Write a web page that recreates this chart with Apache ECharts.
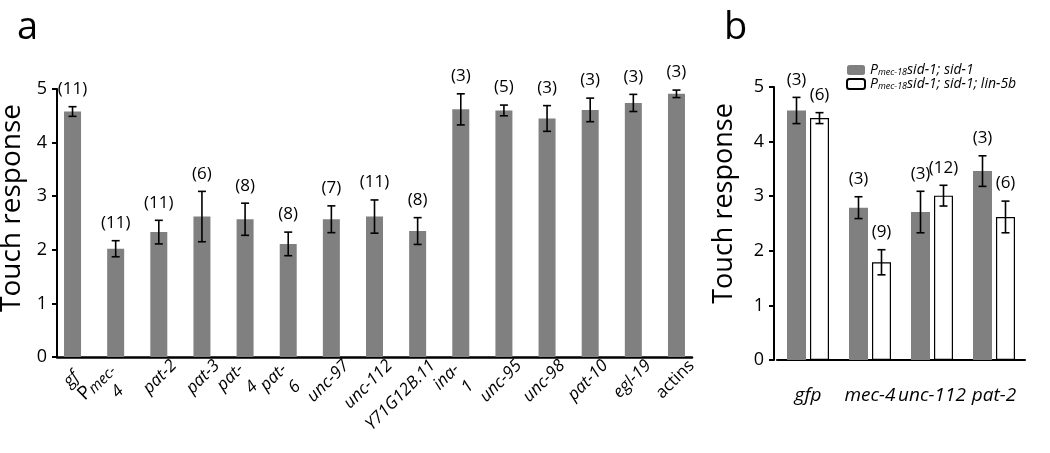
<!DOCTYPE html>
<html>
<head>
<meta charset="utf-8">
<script src="https://cdn.jsdelivr.net/npm/echarts@6/dist/echarts.min.js"></script>
<style>
  html, body { margin: 0; padding: 0; background: #fff; }
  #main { width: 1050px; height: 453px; }
</style>
</head>
<body>
<div id="main"></div>
<script>
// panel a
const catsA = ['gf', 'Pmec-\n4', 'pat-2', 'pat-3', 'pat-\n4', 'pat-\n6', 'unc-97', 'unc-112', 'Y71G12B.11', 'ina-\n1', 'unc-95', 'unc-98', 'pat-10', 'egl-19', 'actins'];
const meanA = [4.58, 2.02, 2.33, 2.62, 2.57, 2.11, 2.57, 2.62, 2.35, 4.62, 4.60, 4.45, 4.61, 4.74, 4.91];
const errA = [0.09, 0.15, 0.22, 0.47, 0.30, 0.22, 0.25, 0.31, 0.25, 0.29, 0.10, 0.24, 0.22, 0.16, 0.07];
const countA = [11, 11, 11, 6, 8, 8, 7, 11, 8, 3, 5, 3, 3, 3, 3];

// panel b
const catsB = ['gfp', 'mec-4', 'unc-112', 'pat-2'];
const meanB1 = [4.57, 2.79, 2.71, 3.46];
const errB1 = [0.24, 0.20, 0.38, 0.28];
const countB1 = [3, 3, 3, 3];
const meanB2 = [4.43, 1.79, 3.01, 2.62];
const errB2 = [0.10, 0.23, 0.19, 0.29];
const countB2 = [6, 9, 12, 6];

const FONT = '"Open Sans", "Noto Sans", sans-serif';
const GRAY = '#808080';
const LABEL_SHIFT = 0.35; // rotated labels sit a bit right of the bars

function errItem(offset) {
  return function (params, api) {
    const x = api.value(0), m = api.value(1), e = api.value(2), n = api.value(3);
    const top = api.coord([x, m + e]);
    const bot = api.coord([x, m - e]);
    const cx = top[0] + offset;
    const st = { stroke: '#000', lineWidth: 1.6 };
    return {
      type: 'group',
      children: [
        { type: 'line', shape: { x1: cx, y1: top[1], x2: cx, y2: bot[1] }, style: st },
        { type: 'line', shape: { x1: cx - 4, y1: top[1], x2: cx + 4, y2: top[1] }, style: st },
        { type: 'line', shape: { x1: cx - 4, y1: bot[1], x2: cx + 4, y2: bot[1] }, style: st },
        {
          type: 'text',
          style: {
            text: '(' + n + ')', x: cx, y: top[1] - 9,
            textAlign: 'center', textVerticalAlign: 'bottom',
            fontSize: 17, fontFamily: FONT, fill: '#000'
          }
        }
      ]
    };
  };
}

function labelA(v) {
  const name = catsA[Math.round(v - LABEL_SHIFT)];
  if (name === 'actins') return '{n|actins}';
  if (name.startsWith('P')) return '{np|P}{s|mec-}\n{c|4}';
  const parts = name.split('\n');
  if (parts.length > 1) return '{ip|' + parts[0] + '}\n{c|' + parts[1] + '}';
  if (name.length < 3) return '{ip|' + name + '}';
  return '{i|' + name + '}';
}

const yAxisCommon = {
  type: 'value', min: 0, max: 5, interval: 1,
  axisLine: { show: true, onZero: false, lineStyle: { color: '#000', width: 2 } },
  axisTick: { show: true, length: 5, lineStyle: { color: '#000', width: 2 } },
  axisLabel: { color: '#000', fontSize: 18, fontFamily: FONT, margin: 10 },
  splitLine: { show: false },
  name: 'Touch response', nameLocation: 'middle',
  nameTextStyle: { fontSize: 28, fontFamily: FONT, color: '#000' }
};

const lab = { fontSize: 17, fontStyle: 'italic', fontFamily: FONT, color: '#000', lineHeight: 22 };

const chart = echarts.init(document.getElementById('main'), null, { renderer: 'canvas' });
chart.setOption({
  animation: false,
  backgroundColor: '#fff',
  title: [
    { text: 'a', left: 12, top: 4, textStyle: { fontSize: 38, fontWeight: 'normal', fontFamily: FONT, color: '#000' } },
    { text: 'b', left: 719, top: 4, textStyle: { fontSize: 38, fontWeight: 'normal', fontFamily: FONT, color: '#000' } }
  ],
  legend: {
    data: ['g1', 'g2'],
    orient: 'vertical', left: 841, top: 58,
    itemWidth: 18, itemHeight: 10, itemGap: 0,
    formatter: function (name) {
      return name === 'g1' ? '{p|P}{s|mec-18}{p|sid-1; sid-1}' : '{p|P}{s|mec-18}{p|sid-1; sid-1; lin-5b}';
    },
    textStyle: {
      rich: {
        p: { fontSize: 14, fontStyle: 'italic', fontFamily: FONT, color: '#000', lineHeight: 16 },
        s: { fontSize: 9, fontStyle: 'italic', fontFamily: FONT, color: '#000', lineHeight: 16, padding: [5, 0, 0, 0] }
      }
    }
  },
  grid: [
    { left: 57, top: 89, width: 635, height: 268, outerBoundsMode: 'none' },
    { left: 777, top: 87, width: 248, height: 273, outerBoundsMode: 'none' }
  ],
  xAxis: [
    {
      type: 'value', gridIndex: 0, min: -0.36, max: 14.36,
      axisLine: { show: true, onZero: false, lineStyle: { color: '#000', width: 2.5 } },
      axisTick: { show: false },
      splitLine: { show: false },
      axisLabel: {
        customValues: catsA.map(function (c, i) { return i + LABEL_SHIFT; }),
        formatter: labelA,
        rotate: 45, margin: 6, interval: 0, hideOverlap: false,
        rich: {
          i: lab,
          ip: Object.assign({}, lab, { padding: [0, 16, 0, 0] }),
          c: Object.assign({}, lab, { align: 'center' }),
          n: Object.assign({}, lab, { fontStyle: 'normal' }),
          np: Object.assign({}, lab, { fontStyle: 'normal', fontSize: 19 }),
          s: Object.assign({}, lab, { fontSize: 15, padding: [6, 16, 0, 0] })
        }
      }
    },
    {
      type: 'category', gridIndex: 1, data: catsB,
      axisLine: { show: true, onZero: false, lineStyle: { color: '#000', width: 2 } },
      axisTick: { show: false },
      axisLabel: { interval: 0, margin: 26, fontSize: 19, fontStyle: 'italic', fontFamily: FONT, color: '#000' }
    }
  ],
  yAxis: [
    Object.assign({}, yAxisCommon, { gridIndex: 0, nameGap: 30, nameTextStyle: Object.assign({}, yAxisCommon.nameTextStyle, { padding: [0, 0, 0, 30] }) }),
    Object.assign({}, yAxisCommon, { gridIndex: 1, offset: 3, nameGap: 36, nameTextStyle: Object.assign({}, yAxisCommon.nameTextStyle, { fontSize: 27, padding: [0, 0, 0, 40] }) })
  ],
  series: [
    {
      type: 'bar', xAxisIndex: 0, yAxisIndex: 0, barWidth: 17,
      itemStyle: { color: GRAY },
      data: meanA.map(function (v, i) { return [i, v]; })
    },
    {
      type: 'custom', xAxisIndex: 0, yAxisIndex: 0, z: 5,
      renderItem: errItem(0),
      data: meanA.map(function (v, i) { return [i, v, errA[i], countA[i]]; })
    },
    {
      name: 'g1', type: 'bar', xAxisIndex: 1, yAxisIndex: 1, barWidth: 19, barGap: '21%',
      itemStyle: { color: GRAY },
      data: meanB1
    },
    {
      name: 'g2', type: 'bar', xAxisIndex: 1, yAxisIndex: 1, barWidth: 19,
      itemStyle: { color: '#fff', borderColor: '#000', borderWidth: 1.2 },
      data: meanB2
    },
    {
      type: 'custom', xAxisIndex: 1, yAxisIndex: 1, z: 5,
      renderItem: errItem(-11.5),
      data: meanB1.map(function (v, i) { return [i, v, errB1[i], countB1[i]]; })
    },
    {
      type: 'custom', xAxisIndex: 1, yAxisIndex: 1, z: 5,
      renderItem: errItem(11.5),
      data: meanB2.map(function (v, i) { return [i, v, errB2[i], countB2[i]]; })
    }
  ]
});
</script>
</body>
</html>
